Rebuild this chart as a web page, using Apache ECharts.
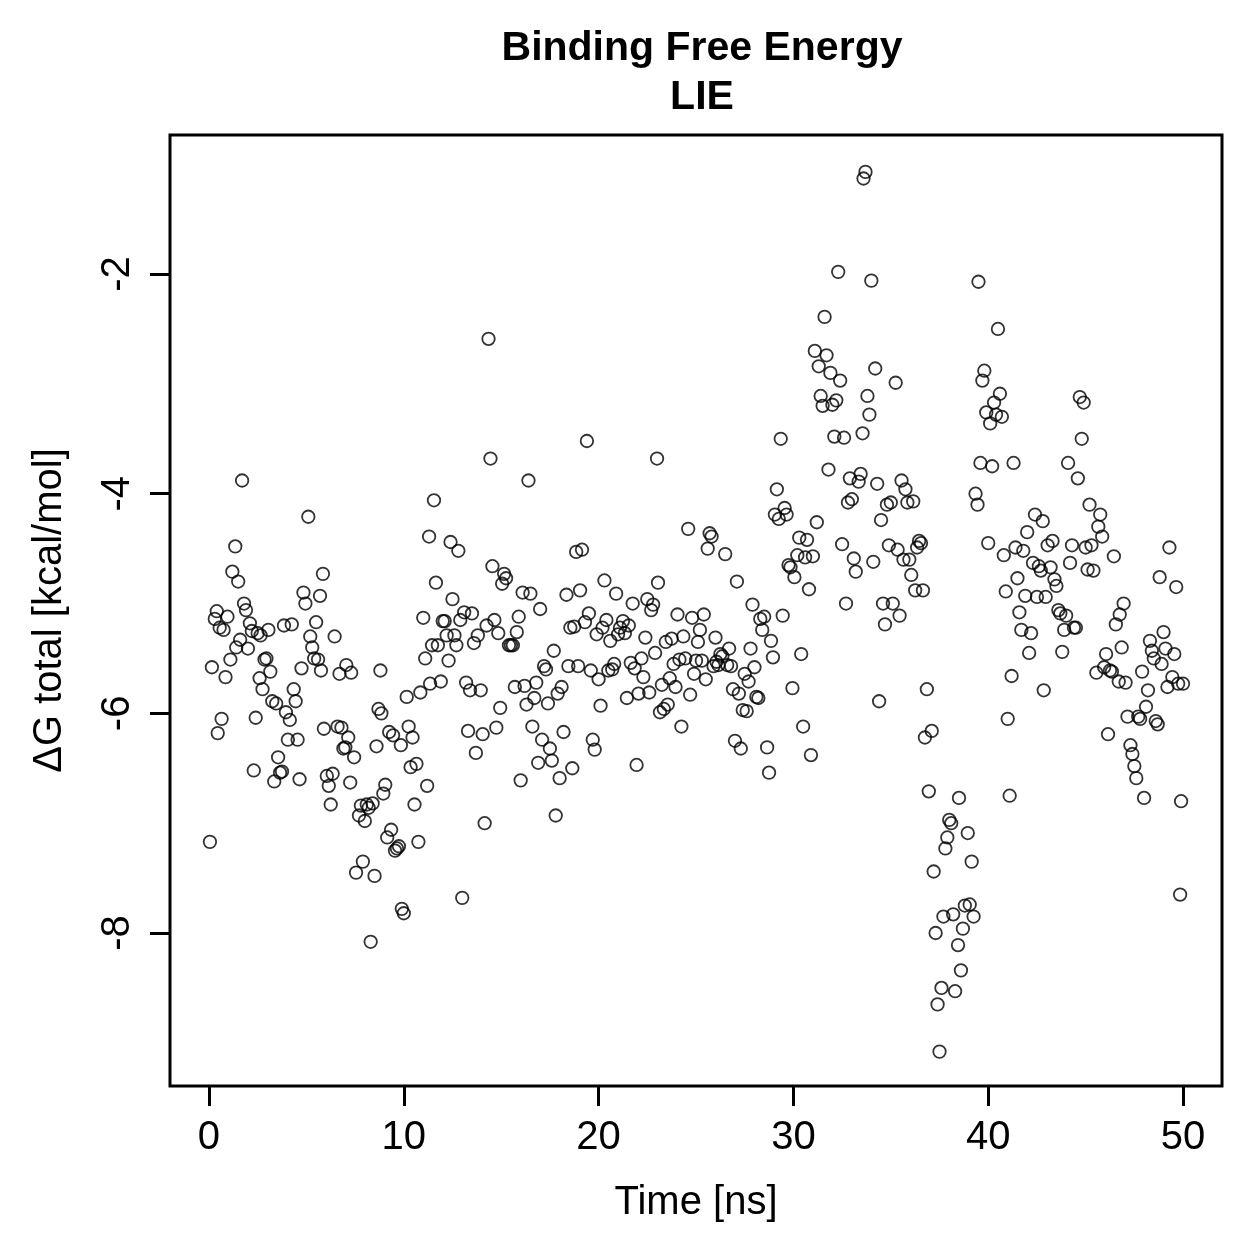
<!DOCTYPE html>
<html>
<head>
<meta charset="utf-8">
<script src="https://cdn.jsdelivr.net/npm/echarts@6/dist/echarts.min.js"></script>
<style>
  html, body { margin: 0; padding: 0; background: #fff; }
  #chart { width: 1259px; height: 1259px; }
</style>
</head>
<body>
<div id="chart"></div>
<script>
// time [ns] and binding free energy [kcal/mol]
const times = [
  0.05, 0.15, 0.3, 0.4, 0.45, 0.55, 0.65, 0.75, 0.85, 0.95, 1.1, 1.2, 1.35, 1.4, 1.5, 1.6, 1.7, 1.8, 1.9, 2.0,
  2.1, 2.2, 2.3, 2.4, 2.5, 2.6, 2.65, 2.75, 2.85, 2.95, 3.05, 3.15, 3.25, 3.35, 3.45, 3.55, 3.65, 3.75, 3.85, 3.95,
  4.05, 4.15, 4.25, 4.35, 4.45, 4.55, 4.65, 4.75, 4.85, 4.95,
  5.1, 5.2, 5.3, 5.4, 5.5, 5.6, 5.7, 5.75, 5.85, 5.9, 6.05, 6.15, 6.25, 6.35, 6.45, 6.6, 6.7, 6.8, 6.9, 7.0,
  7.05, 7.15, 7.25, 7.3, 7.45, 7.55, 7.7, 7.8, 7.9, 8.0, 8.1, 8.2, 8.3, 8.4, 8.5, 8.6, 8.7, 8.8, 8.85, 8.95,
  9.05, 9.15, 9.25, 9.35, 9.45, 9.55, 9.65, 9.75, 9.85, 9.9, 10.0,
  10.15, 10.25, 10.35, 10.45, 10.55, 10.65, 10.75, 10.85, 11.0, 11.1, 11.2, 11.3, 11.35, 11.45, 11.55, 11.65, 11.75, 11.9, 12.0, 12.1,
  12.2, 12.3, 12.4, 12.5, 12.6, 12.7, 12.8, 12.9, 13.0, 13.1, 13.2, 13.3, 13.4, 13.5, 13.6, 13.7, 13.8, 13.95, 14.05, 14.15,
  14.25, 14.35, 14.45, 14.55, 14.65, 14.75, 14.85, 14.95, 15.05,
  15.15, 15.25, 15.4, 15.5, 15.6, 15.7, 15.8, 15.9, 16.0, 16.1, 16.2, 16.3, 16.4, 16.5, 16.6, 16.7, 16.8, 16.9, 17.0, 17.1,
  17.2, 17.3, 17.4, 17.5, 17.6, 17.7, 17.8, 17.9, 18.0, 18.1, 18.2, 18.35, 18.45, 18.55, 18.65, 18.75, 18.85, 18.95, 19.05, 19.15,
  19.3, 19.4, 19.5, 19.6, 19.7, 19.8, 19.9, 20.0,
  20.1, 20.2, 20.3, 20.4, 20.5, 20.6, 20.7, 20.8, 20.9, 21.0, 21.1, 21.25, 21.35, 21.45, 21.55, 21.65, 21.75, 21.85, 21.95, 22.05,
  22.2, 22.3, 22.4, 22.5, 22.6, 22.7, 22.8, 22.9, 23.0, 23.05, 23.15, 23.25, 23.35, 23.45, 23.55, 23.65, 23.75, 23.85, 23.95, 24.05,
  24.15, 24.25, 24.35, 24.45, 24.6, 24.7, 24.8, 24.9, 25.0,
  25.1, 25.2, 25.3, 25.4, 25.5, 25.6, 25.7, 25.8, 25.9, 26.0, 26.05, 26.15, 26.25, 26.35, 26.5, 26.6, 26.7, 26.8, 26.9, 27.0,
  27.1, 27.2, 27.3, 27.4, 27.5, 27.6, 27.7, 27.8, 27.9, 28.0, 28.1, 28.2, 28.3, 28.4, 28.5, 28.65, 28.75, 28.85, 28.95, 29.05,
  29.15, 29.25, 29.35, 29.45, 29.55, 29.65, 29.75, 29.85, 29.95, 30.05,
  30.2, 30.3, 30.4, 30.5, 30.6, 30.7, 30.8, 30.9, 31.0, 31.1, 31.2, 31.3, 31.4, 31.5, 31.6, 31.7, 31.8, 31.9, 32.0, 32.1,
  32.2, 32.3, 32.4, 32.5, 32.6, 32.7, 32.8, 32.9, 33.0, 33.1, 33.2, 33.35, 33.45, 33.55, 33.6, 33.7, 33.8, 33.9, 34.0, 34.1,
  34.2, 34.3, 34.4, 34.5, 34.6, 34.7, 34.8, 34.9, 35.0,
  35.1, 35.25, 35.35, 35.45, 35.55, 35.65, 35.75, 35.85, 35.95, 36.05, 36.15, 36.25, 36.35, 36.45, 36.55, 36.65, 36.75, 36.85, 36.95, 37.1,
  37.2, 37.3, 37.4, 37.5, 37.6, 37.7, 37.8, 37.9, 38.0, 38.1, 38.2, 38.3, 38.45, 38.5, 38.6, 38.7, 38.8, 38.95, 39.05, 39.15,
  39.25, 39.35, 39.45, 39.5, 39.6, 39.7, 39.8, 39.9, 40.0,
  40.1, 40.2, 40.3, 40.4, 40.5, 40.6, 40.7, 40.8, 40.9, 41.0, 41.1, 41.2, 41.3, 41.4, 41.5, 41.6, 41.7, 41.8, 41.9, 42.0,
  42.1, 42.2, 42.3, 42.4, 42.5, 42.6, 42.7, 42.8, 42.85, 42.95, 43.05, 43.2, 43.3, 43.4, 43.5, 43.6, 43.7, 43.8, 43.9, 44.0,
  44.1, 44.2, 44.3, 44.4, 44.5, 44.6, 44.7, 44.8, 44.9, 45.0,
  45.1, 45.2, 45.3, 45.4, 45.55, 45.65, 45.75, 45.85, 45.95, 46.05, 46.15, 46.25, 46.35, 46.45, 46.55, 46.7, 46.75, 46.85, 46.95, 47.05,
  47.15, 47.3, 47.4, 47.5, 47.6, 47.7, 47.8, 47.9, 48.0, 48.1, 48.2, 48.3, 48.4, 48.5, 48.6, 48.7, 48.8, 48.9, 49.0, 49.1,
  49.2, 49.3, 49.45, 49.55, 49.65, 49.75, 49.85, 49.9, 50.0
];

const deltaG = [
  -7.17, -5.58, -5.14, -5.07, -6.18, -5.22, -6.05, -5.24, -5.67, -5.12, -5.51, -4.71, -4.48, -5.4, -4.8, -5.33, -3.88, -5.0, -5.06, -5.41,
  -5.18, -5.25, -6.52, -6.04, -5.27, -5.68, -5.29, -5.78, -5.51, -5.5, -5.24, -5.62, -5.89, -6.62, -5.91, -6.4, -6.54, -6.53, -5.2, -5.99,
  -6.24, -6.06, -5.19, -5.78, -5.89, -6.24, -6.6, -5.59, -4.9, -5.0,
  -4.21, -5.3, -5.4, -5.5, -5.17, -5.51, -4.93, -5.61, -4.73, -6.14, -6.57, -6.66, -6.83, -6.55, -5.3, -6.12, -5.64, -6.13, -6.32, -6.31,
  -5.56, -6.22, -6.63, -5.63, -6.4, -7.45, -6.93, -6.84, -7.35, -6.98, -6.83, -6.86, -8.08, -6.82, -7.48, -6.3, -5.96, -5.61, -6.0, -6.73,
  -6.65, -7.13, -6.17, -7.06, -6.2, -7.25, -7.23, -7.21, -6.29, -7.78, -7.82,
  -5.85, -6.12, -6.49, -6.22, -6.83, -6.46, -7.17, -5.81, -5.13, -5.5, -6.66, -4.39, -5.73, -5.38, -4.06, -4.81, -5.38, -5.71, -5.16, -5.16,
  -5.29, -5.52, -4.44, -4.96, -5.29, -5.38, -4.52, -5.15, -7.68, -5.08, -5.72, -6.16, -5.79, -5.09, -5.36, -6.36, -5.29, -5.79, -6.19, -7.0,
  -5.2, -2.59, -3.68, -4.66, -5.15, -6.13, -5.27, -5.95, -4.82,
  -4.73, -4.77, -5.38, -5.38, -5.38, -5.76, -5.26, -5.12, -6.61, -4.9, -5.75, -5.92, -3.88, -4.91, -6.12, -5.86, -5.72, -6.45, -5.05, -6.24,
  -5.57, -5.6, -5.91, -6.32, -6.43, -5.43, -6.93, -5.82, -6.59, -5.76, -6.17, -4.92, -5.57, -5.22, -6.5, -5.21, -4.53, -5.57, -4.88, -4.51,
  -5.17, -3.52, -5.09, -5.61, -6.24, -6.33, -5.28, -5.69,
  -5.93, -5.22, -4.79, -5.15, -5.61, -5.34, -5.6, -5.55, -4.91, -5.28, -5.22, -5.16, -5.27, -5.86, -5.2, -5.54, -5.0, -5.59, -6.47, -5.82,
  -5.5, -5.67, -5.31, -4.96, -5.81, -5.06, -5.01, -5.45, -3.68, -4.81, -5.99, -5.74, -5.96, -5.35, -5.92, -5.68, -5.32, -5.55, -5.76, -5.1,
  -5.51, -6.12, -5.3, -5.5, -4.32, -5.83, -5.13, -5.64, -5.52,
  -5.35, -5.24, -5.52, -5.1, -5.69, -4.5, -4.36, -4.39, -5.57, -5.31, -5.53, -5.56, -5.46, -5.48, -4.55, -5.56, -5.41, -5.57, -5.78, -6.25,
  -4.8, -5.82, -6.32, -5.97, -5.64, -5.98, -5.71, -5.41, -5.01, -5.58, -5.85, -5.86, -5.14, -5.24, -5.12, -6.31, -6.54, -5.34, -5.49, -4.19,
  -3.96, -4.23, -3.5, -5.11, -4.13, -4.19, -4.65, -4.67, -5.77, -4.76,
  -4.56, -4.4, -5.46, -6.12, -4.58, -4.42, -4.87, -6.38, -4.57, -2.7, -4.26, -2.84, -3.11, -3.2, -2.39, -2.74, -3.78, -2.9, -3.19, -3.48,
  -3.15, -1.98, -2.97, -4.46, -3.49, -5.0, -4.08, -3.86, -4.05, -4.59, -4.71, -3.89, -3.82, -3.45, -1.13, -1.07, -3.11, -3.28, -2.06, -4.62,
  -2.86, -3.91, -5.89, -4.24, -5.0, -5.19, -4.1, -4.47, -4.08,
  -5.0, -2.99, -4.51, -5.11, -3.88, -4.6, -3.96, -4.08, -4.6, -4.74, -4.07, -4.88, -4.49, -4.43, -4.45, -4.88, -6.22, -5.78, -6.71, -6.16,
  -7.44, -8.0, -8.65, -9.08, -8.5, -7.85, -7.23, -7.13, -6.97, -7.0, -7.83, -8.53, -8.11, -6.77, -8.34, -7.96, -7.75, -7.09, -7.74, -7.35,
  -7.85, -4.0, -4.1, -2.07, -3.72, -2.97, -2.88, -3.26, -4.45,
  -3.36, -3.75, -3.17, -3.28, -2.5, -3.09, -3.3, -4.56, -4.89, -6.05, -6.75, -5.66, -3.72, -4.49, -4.77, -5.08, -5.24, -4.52, -4.93, -4.35,
  -5.45, -5.27, -4.63, -4.19, -4.94, -4.66, -4.7, -4.25, -5.79, -4.94, -4.47, -4.67, -4.43, -4.78, -4.84, -5.06, -5.09, -5.44, -5.24, -5.11,
  -3.72, -4.63, -4.47, -5.22, -5.22, -3.86, -3.12, -3.5, -3.17, -4.49,
  -4.69, -4.1, -4.47, -4.7, -5.63, -4.3, -4.19, -4.39, -5.58, -5.46, -6.19, -5.61, -5.62, -4.57, -5.19, -5.71, -5.1, -5.4, -5.0, -5.72,
  -6.03, -6.29, -6.37, -6.48, -6.59, -6.03, -6.05, -5.62, -6.77, -5.94, -5.79, -5.34, -5.43, -5.5, -6.07, -6.1, -4.76, -5.55, -5.26, -5.41,
  -5.76, -4.49, -5.67, -5.46, -4.85, -5.73, -7.65, -6.8, -5.73
];

const xTicks = [0, 10, 20, 30, 40, 50];
const yTicks = [-8, -6, -4, -2];

const chart = echarts.init(document.getElementById("chart"), null, { renderer: "canvas" });
const font = "Liberation Sans, Arial, Helvetica, sans-serif";

const points = times.map((t, i) => [t, deltaG[i]]);

chart.setOption({
  backgroundColor: "#fff",
  animation: false,
  title: {
    text: "Binding Free Energy\nLIE",
    left: 697,
    top: 19,
    textAlign: "center",
    textStyle: {
      fontFamily: font,
      fontWeight: "bold",
      fontSize: 41,
      lineHeight: 49,
      color: "#000",
    },
  },
  grid: {
    left: 170,
    top: 135,
    width: 1052,
    height: 951,
    show: true,
    borderColor: "#000",
    borderWidth: 3,
    backgroundColor: "transparent",
  },
  xAxis: {
    type: "value",
    min: -2,
    max: 52,
    name: "Time [ns]",
    nameLocation: "middle",
    nameGap: 97,
    nameTextStyle: { fontFamily: font, fontSize: 40, color: "#000" },
    axisLine: { show: false, onZero: false },
    axisTick: {
      show: true,
      length: 20,
      customValues: xTicks,
      lineStyle: { color: "#000", width: 3 },
    },
    axisLabel: {
      customValues: xTicks,
      margin: 32,
      fontFamily: font,
      fontSize: 40,
      color: "#000",
    },
    splitLine: { show: false },
  },
  yAxis: {
    type: "value",
    min: -9.393,
    max: -0.734,
    name: "ΔG total [kcal/mol]",
    nameLocation: "middle",
    nameRotate: 90,
    nameGap: 100,
    nameTextStyle: { fontFamily: font, fontSize: 40, color: "#000" },
    axisLine: { show: false, onZero: false },
    axisTick: {
      show: true,
      length: 20,
      customValues: yTicks,
      lineStyle: { color: "#000", width: 3 },
    },
    axisLabel: {
      customValues: yTicks,
      rotate: 90,
      margin: 32,
      fontFamily: font,
      fontSize: 40,
      color: "#000",
    },
    splitLine: { show: false },
  },
  series: [
    {
      type: "scatter",
      data: points,
      symbol: "circle",
      symbolSize: 12.5,
      itemStyle: {
        color: "transparent",
        borderColor: "#000",
        borderWidth: 1.8,
      },
      emphasis: { disabled: true },
    },
  ],
});
</script>
</body>
</html>
